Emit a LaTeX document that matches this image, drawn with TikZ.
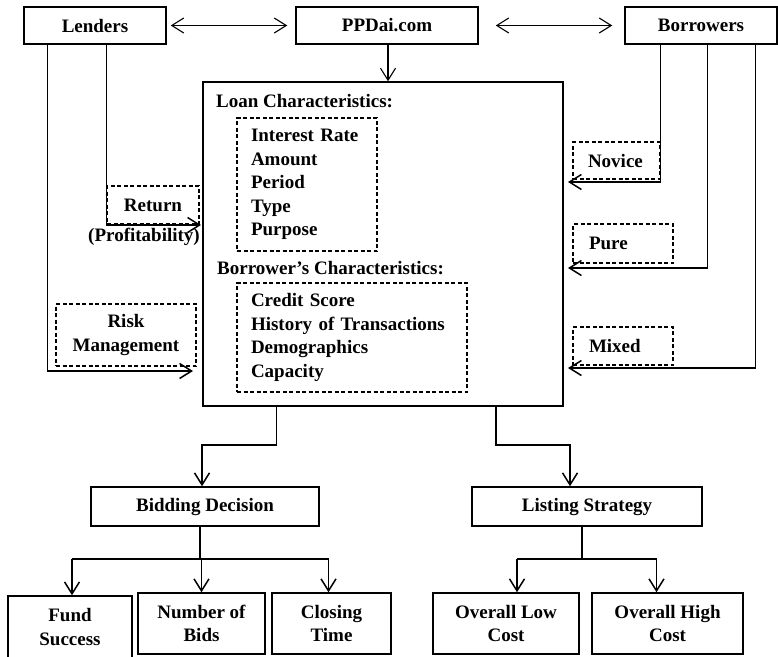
\documentclass[tikz,border=0pt]{standalone}
\usepackage{fontspec}
\setmainfont{Liberation Serif}
\usetikzlibrary{arrows.meta}
\tikzset{
  blk/.style={draw, line width=1.5pt, inner sep=0pt, align=center},
  dsh/.style={draw, line width=1.3pt, dash pattern=on 4pt off 2.5pt, inner sep=0pt},
  conn/.style={line width=1.5pt},
  thin conn/.style={line width=1.1pt},
  >={Straight Barb[length=12pt,width=15pt]}
}

\begin{document}
\begin{tikzpicture}[x=1pt, y=-1pt, font=\bfseries\fontsize{19}{23.5}\selectfont]
\useasboundingbox (0,0) rectangle (778,656);
% top row
\node[blk, minimum width=142, minimum height=37] (lenders) at (95,25.5) {Lenders};
\node[blk, minimum width=182, minimum height=37] (ppdai) at (387,25.5) {PPDai.com};
\node[blk, minimum width=152, minimum height=37] (borrowers) at (701,25.5) {Borrowers};
\draw[thin conn, <->] ([xshift=4pt]lenders.east) -- ([xshift=-8pt]ppdai.west);
\draw[thin conn, <->] ([xshift=17pt]ppdai.east) -- ([xshift=-12pt]borrowers.west);

% characteristics
\node[blk, minimum width=360, minimum height=324] (main) at (383,244) {};
\draw[thin conn, ->] ([xshift=1pt]ppdai.south) -- ([xshift=1pt]ppdai.south |- main.north);
\node[anchor=west, inner sep=0pt] (loanhd) at (216,101) {Loan Characteristics:};
\node[dsh, minimum width=140, minimum height=133, text width=112pt, align=left] (loanlist) at (307,184.5)
  {Interest Rate\\Amount\\Period\\Type\\Purpose};
\node[anchor=west, inner sep=0pt] (borrhd) at (217,268) {Borrower’s Characteristics:};
\node[dsh, minimum width=230, minimum height=109, text width=202pt, align=left] (borrlist) at (352,337.5)
  {Credit Score\\History of Transactions\\Demographics\\Capacity};

% lenders side
\node[dsh, minimum width=92, minimum height=38] (ret) at (153,205) {Return};
\node[inner sep=0pt] (prof) at (144,237) {(Profitability)};
\node[dsh, minimum width=140, minimum height=62, align=center] (risk) at (126,335) {Risk\\Management};
\coordinate (retend) at (201,225);
\coordinate (riskend) at (193,371);
\draw[conn, ->] (ret.west |- lenders.south) |- (retend);
\draw[conn, ->] ([xshift=24pt]lenders.south west) |- (riskend);

% borrowers side
\node[dsh, minimum width=87, minimum height=37, text width=57pt, align=left] (nov) at (616.5,160.5) {Novice};
\node[dsh, minimum width=100, minimum height=39, text width=68pt, align=left] (pure) at (623,243.5) {Pure};
\node[dsh, minimum width=100, minimum height=38, text width=68pt, align=left] (mixed) at (623,346) {Mixed};
\coordinate (novend) at (568,182);
\coordinate (pureend) at (568,268);
\coordinate (mixend) at (568,368);
\draw[conn, ->] ([xshift=36pt]borrowers.south west) |- (novend);
\draw[conn, ->] ([xshift=83pt]borrowers.south west) |- (pureend);
\draw[conn, ->] ([xshift=131pt]borrowers.south west) |- (mixend);

% decisions
\node[blk, minimum width=228, minimum height=39] (bid) at (205,506.5) {Bidding Decision};
\node[blk, minimum width=230, minimum height=39] (list) at (587,506.5) {Listing Strategy};
\draw[conn, ->] ([xshift=74pt]main.south west) -- ++(0,38) -| ([xshift=-3pt]bid.north);
\draw[conn, ->] ([xshift=-68pt]main.south east) -- ++(0,38) -| ([xshift=-17pt]list.north);

% outcomes
\node[blk, minimum width=124, minimum height=62] (fund) at (70,627) {Fund\\Success};
\node[blk, minimum width=127, minimum height=61] (nbids) at (201.5,623.5) {Number of\\Bids};
\node[blk, minimum width=119, minimum height=61] (close) at (331.5,623.5) {Closing\\Time};
\node[blk, minimum width=146, minimum height=61] (low) at (506,623.5) {Overall Low\\Cost};
\node[blk, minimum width=151, minimum height=61] (high) at (667.5,623.5) {Overall High\\Cost};

\draw[conn] ([xshift=-5pt]bid.south) -- ++(0,32) coordinate (bj);
\draw[conn] ([xshift=2pt]fund.north |- bj) -- ([xshift=-3pt]close.north |- bj);
\foreach \n/\d in {fund/2,nbids/0,close/-3}
  \draw[conn, ->] ([xshift=\d pt]\n.north |- bj) -- ([xshift=\d pt]\n.north);

\draw[conn] ([xshift=-5pt]list.south) -- ++(0,32) coordinate (lj);
\draw[conn] ([xshift=11pt]low.north |- lj) -- ([xshift=-11pt]high.north |- lj);
\foreach \n/\d in {low/11,high/-11}
  \draw[conn, ->] ([xshift=\d pt]\n.north |- lj) -- ([xshift=\d pt]\n.north);
\end{tikzpicture}
\end{document}
